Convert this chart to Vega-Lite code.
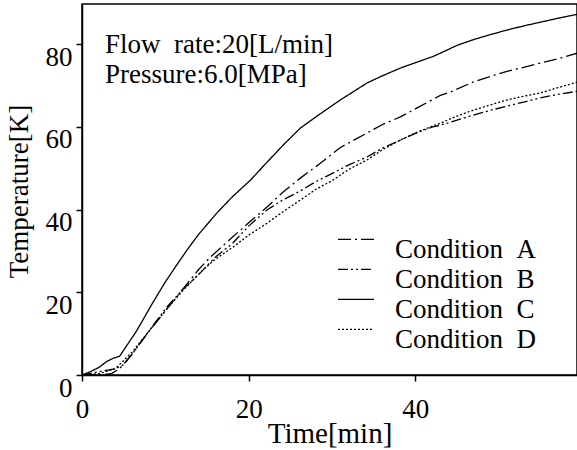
{
  "$schema": "https://vega.github.io/schema/vega-lite/v6.json",
  "width": 495,
  "height": 371,
  "autosize": {"type": "none"},
  "padding": {"left": 82, "top": 4, "right": 0, "bottom": 75},
  "background": "white",
  "config": {
    "font": "Liberation Serif",
    "view": {"stroke": "black", "strokeWidth": 1.5},
    "axis": {"grid": false, "domainColor": "black", "domainWidth": 1.5, "tickColor": "black", "tickWidth": 1.5, "labelColor": "black", "titleColor": "black", "labelFontWeight": "normal", "titleFontWeight": "normal", "labelFont": "Liberation Serif", "titleFont": "Liberation Serif", "labelFontSize": 27, "titleFontSize": 27}
  },
  "data": {"values": [
    {"cond": "Condition A", "t": 0, "temp": 0}, {"cond": "Condition A", "t": 2, "temp": 0}, {"cond": "Condition A", "t": 3.5, "temp": 0.3}, {"cond": "Condition A", "t": 4.5, "temp": 1.5}, {"cond": "Condition A", "t": 6, "temp": 5}, {"cond": "Condition A", "t": 8, "temp": 10.5}, {"cond": "Condition A", "t": 10, "temp": 15.5}, {"cond": "Condition A", "t": 12, "temp": 20.5}, {"cond": "Condition A", "t": 14, "temp": 25.5}, {"cond": "Condition A", "t": 15.4, "temp": 28.5}, {"cond": "Condition A", "t": 18.1, "temp": 33.4}, {"cond": "Condition A", "t": 20, "temp": 36.8}, {"cond": "Condition A", "t": 22.2, "temp": 40.6}, {"cond": "Condition A", "t": 24, "temp": 44}, {"cond": "Condition A", "t": 26.2, "temp": 47.6}, {"cond": "Condition A", "t": 28.6, "temp": 51.2}, {"cond": "Condition A", "t": 31, "temp": 55}, {"cond": "Condition A", "t": 34.2, "temp": 58.5}, {"cond": "Condition A", "t": 36, "temp": 60.5}, {"cond": "Condition A", "t": 38.2, "temp": 62.4}, {"cond": "Condition A", "t": 40.6, "temp": 65}, {"cond": "Condition A", "t": 43, "temp": 67.6}, {"cond": "Condition A", "t": 44.2, "temp": 68.4}, {"cond": "Condition A", "t": 46.9, "temp": 70.8}, {"cond": "Condition A", "t": 49, "temp": 72.2}, {"cond": "Condition A", "t": 51, "temp": 73.4}, {"cond": "Condition A", "t": 53, "temp": 74.4}, {"cond": "Condition A", "t": 55, "temp": 75.4}, {"cond": "Condition A", "t": 57.4, "temp": 76.6}, {"cond": "Condition A", "t": 59.4, "temp": 77.8},
    {"cond": "Condition B", "t": 0, "temp": 0}, {"cond": "Condition B", "t": 2, "temp": 0.8}, {"cond": "Condition B", "t": 4, "temp": 1.5}, {"cond": "Condition B", "t": 5, "temp": 2.5}, {"cond": "Condition B", "t": 6, "temp": 5}, {"cond": "Condition B", "t": 8, "temp": 10.5}, {"cond": "Condition B", "t": 10, "temp": 16}, {"cond": "Condition B", "t": 12, "temp": 20.5}, {"cond": "Condition B", "t": 14.2, "temp": 24.7}, {"cond": "Condition B", "t": 16, "temp": 28.5}, {"cond": "Condition B", "t": 18.1, "temp": 31.9}, {"cond": "Condition B", "t": 20, "temp": 36}, {"cond": "Condition B", "t": 22.2, "temp": 39.9}, {"cond": "Condition B", "t": 24, "temp": 42.2}, {"cond": "Condition B", "t": 26.2, "temp": 44.5}, {"cond": "Condition B", "t": 28, "temp": 46.7}, {"cond": "Condition B", "t": 30.1, "temp": 48.8}, {"cond": "Condition B", "t": 32, "temp": 50.8}, {"cond": "Condition B", "t": 34.2, "temp": 52.7}, {"cond": "Condition B", "t": 36, "temp": 54.8}, {"cond": "Condition B", "t": 38.2, "temp": 56.8}, {"cond": "Condition B", "t": 40, "temp": 58.4}, {"cond": "Condition B", "t": 42.1, "temp": 60}, {"cond": "Condition B", "t": 43, "temp": 60.4}, {"cond": "Condition B", "t": 45, "temp": 61.6}, {"cond": "Condition B", "t": 46.9, "temp": 62.8}, {"cond": "Condition B", "t": 49, "temp": 64}, {"cond": "Condition B", "t": 51, "temp": 65}, {"cond": "Condition B", "t": 53, "temp": 66}, {"cond": "Condition B", "t": 55, "temp": 67}, {"cond": "Condition B", "t": 57, "temp": 67.8}, {"cond": "Condition B", "t": 59.4, "temp": 68.6},
    {"cond": "Condition C", "t": 0, "temp": 0}, {"cond": "Condition C", "t": 1, "temp": 0.8}, {"cond": "Condition C", "t": 2, "temp": 1.8}, {"cond": "Condition C", "t": 3, "temp": 3.3}, {"cond": "Condition C", "t": 3.8, "temp": 4.1}, {"cond": "Condition C", "t": 4.5, "temp": 4.5}, {"cond": "Condition C", "t": 5.5, "temp": 7.5}, {"cond": "Condition C", "t": 6.5, "temp": 10.5}, {"cond": "Condition C", "t": 7.5, "temp": 14}, {"cond": "Condition C", "t": 8.5, "temp": 17.5}, {"cond": "Condition C", "t": 10, "temp": 22.5}, {"cond": "Condition C", "t": 11.5, "temp": 27}, {"cond": "Condition C", "t": 12.7, "temp": 30.5}, {"cond": "Condition C", "t": 14, "temp": 34}, {"cond": "Condition C", "t": 16.2, "temp": 39.2}, {"cond": "Condition C", "t": 18, "temp": 43}, {"cond": "Condition C", "t": 20.2, "temp": 47.1}, {"cond": "Condition C", "t": 22, "temp": 51}, {"cond": "Condition C", "t": 24.1, "temp": 55.5}, {"cond": "Condition C", "t": 26.2, "temp": 59.7}, {"cond": "Condition C", "t": 28.2, "temp": 62.6}, {"cond": "Condition C", "t": 31, "temp": 66.5}, {"cond": "Condition C", "t": 34.2, "temp": 70.6}, {"cond": "Condition C", "t": 36, "temp": 72.3}, {"cond": "Condition C", "t": 38.2, "temp": 74.2}, {"cond": "Condition C", "t": 40, "temp": 75.5}, {"cond": "Condition C", "t": 42.1, "temp": 77}, {"cond": "Condition C", "t": 43, "temp": 77.8}, {"cond": "Condition C", "t": 45, "temp": 79.7}, {"cond": "Condition C", "t": 47, "temp": 81.1}, {"cond": "Condition C", "t": 49, "temp": 82.3}, {"cond": "Condition C", "t": 51, "temp": 83.4}, {"cond": "Condition C", "t": 53, "temp": 84.4}, {"cond": "Condition C", "t": 55, "temp": 85.3}, {"cond": "Condition C", "t": 57, "temp": 86.2}, {"cond": "Condition C", "t": 59.4, "temp": 87.2},
    {"cond": "Condition D", "t": 0, "temp": 0}, {"cond": "Condition D", "t": 2, "temp": 0.3}, {"cond": "Condition D", "t": 4, "temp": 1.5}, {"cond": "Condition D", "t": 6, "temp": 5.5}, {"cond": "Condition D", "t": 8, "temp": 10.5}, {"cond": "Condition D", "t": 10, "temp": 15.5}, {"cond": "Condition D", "t": 12, "temp": 20.2}, {"cond": "Condition D", "t": 14.5, "temp": 25.4}, {"cond": "Condition D", "t": 16, "temp": 28}, {"cond": "Condition D", "t": 18.1, "temp": 30.9}, {"cond": "Condition D", "t": 20, "temp": 33.8}, {"cond": "Condition D", "t": 22.2, "temp": 36.7}, {"cond": "Condition D", "t": 24, "temp": 39.3}, {"cond": "Condition D", "t": 26.2, "temp": 42.3}, {"cond": "Condition D", "t": 28, "temp": 44.8}, {"cond": "Condition D", "t": 30.1, "temp": 47.1}, {"cond": "Condition D", "t": 32, "temp": 49.7}, {"cond": "Condition D", "t": 34.2, "temp": 52}, {"cond": "Condition D", "t": 36, "temp": 54.4}, {"cond": "Condition D", "t": 38.2, "temp": 56.8}, {"cond": "Condition D", "t": 40, "temp": 58.5}, {"cond": "Condition D", "t": 42.1, "temp": 60.2}, {"cond": "Condition D", "t": 43, "temp": 60.9}, {"cond": "Condition D", "t": 45, "temp": 62.6}, {"cond": "Condition D", "t": 46.9, "temp": 64}, {"cond": "Condition D", "t": 49, "temp": 65.3}, {"cond": "Condition D", "t": 51, "temp": 66.5}, {"cond": "Condition D", "t": 53, "temp": 67.4}, {"cond": "Condition D", "t": 55, "temp": 68.2}, {"cond": "Condition D", "t": 57, "temp": 69.4}, {"cond": "Condition D", "t": 59.4, "temp": 70.8}
  ]},
  "resolve": {"axis": {"x": "independent", "y": "independent"}},
  "layer": [
    {
      "mark": {"type": "line", "color": "black", "strokeWidth": 1.3, "clip": true},
      "encoding": {
        "x": {"field": "t", "type": "quantitative", "scale": {"domain": [0, 59.4], "nice": false, "zero": false},
          "axis": {"orient": "bottom", "values": [0, 20, 40], "ticks": true, "tickSize": 6,
            "labelPadding": 36, "labelBaseline": "alphabetic", "labelFlush": false, "labelOverlap": false,
            "title": "Time[min]", "titleFontSize": 29, "titleX": 247.5, "titleY": 67, "titleBaseline": "alphabetic", "titleAlign": "center"}},
        "y": {"field": "temp", "type": "quantitative", "scale": {"domain": [0, 89.7], "nice": false, "zero": false},
          "axis": {"orient": "left", "values": [0, 20, 40, 60, 80], "ticks": true, "tickSize": 6,
            "labelPadding": 4, "labelBaseline": "alphabetic", "labelOffset": 21, "labelFlush": false, "labelOverlap": false,
            "title": "Temperature[K]", "titleX": -63, "titleY": 187, "titleAngle": -90, "titleBaseline": "middle", "titleAlign": "center"}},
        "strokeDash": {"field": "cond", "type": "nominal",
          "scale": {"domain": ["Condition A", "Condition B", "Condition C", "Condition D"], "range": [[13, 4, 2, 4], [10, 3, 2, 3, 2, 3], [1, 0], [2, 2]]},
          "legend": {"orient": "none", "legendX": 255, "legendY": 231.5, "title": null, "symbolType": "M-1,-0.6L1,-0.6", "symbolSize": 1300, "symbolStrokeWidth": 1.3, "symbolStrokeColor": "black", "symbolFillColor": "transparent", "labelFont": "Liberation Serif", "labelFontSize": 27, "labelColor": "black", "labelOffset": 20, "rowPadding": 0, "clipHeight": 29.5, "labelBaseline": "middle", "labelExpr": "replace(datum.label, ' ', '\u00a0\u00a0')"}}
      }
    },
    {
      "data": {"values": [{}]},
      "mark": {"type": "text", "font": "Liberation Serif", "fontSize": 27, "align": "left", "baseline": "alphabetic", "lineHeight": 30, "color": "black"},
      "encoding": {
        "x": {"datum": 2.76, "type": "quantitative", "axis": null},
        "y": {"datum": 77.8, "type": "quantitative", "axis": null},
        "text": {"value": ["Flow\u00a0\u00a0rate:20[L/min]", "Pressure:6.0[MPa]"]}
      }
    }
  ]
}
